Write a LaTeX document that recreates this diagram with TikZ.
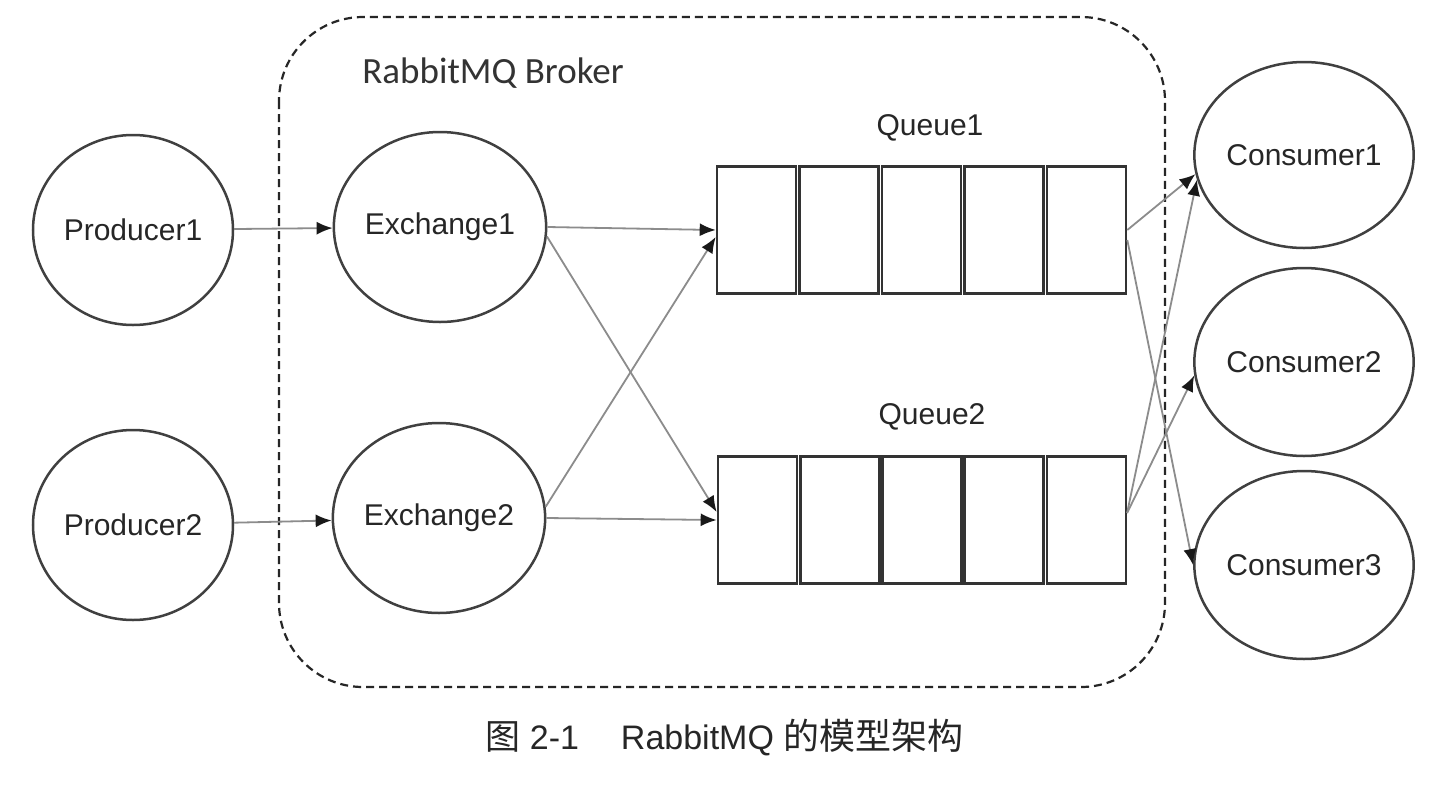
\documentclass[tikz,border=0pt]{standalone}
\usepackage{fontspec}
\setmainfont{Liberation Sans}
\newfontfamily\cjk{Noto Sans CJK SC}
\newfontfamily\brokerfont{Carlito}
\usetikzlibrary{shapes.geometric,arrows.meta}
\begin{document}
\begin{tikzpicture}[x=0.5pt,y=-0.5pt,
  ell/.style={ellipse,draw=black!75,line width=1.25pt,minimum width=100pt,minimum height=95pt,inner sep=0pt,font=\fontsize{15}{18}\selectfont,text=black!85},
  cell/.style={rectangle,draw=black!80,line width=1.3pt,minimum width=39.5pt,minimum height=63.5pt,inner sep=0pt},
  link/.style={draw=black!45,line width=0.9pt,-{Latex[length=8pt,width=6.5pt,color=black!90]}},
  qlabel/.style={font=\fontsize{15}{18}\selectfont,text=black!85},
  brokerbox/.style={draw=black!85,line width=1.1pt,dash pattern=on 4pt off 2.5pt,rounded corners=42pt}]
\useasboundingbox (0,0) rectangle (1448,794);
\fill[white] (0,0) rectangle (1448,794);

% broker boundary
\draw[brokerbox] (279,17) rectangle (1165,687);
\node[anchor=west,inner sep=0pt,font=\brokerfont\fontsize{18.5}{22}\selectfont,text=black!80] (broker) at (362,73) {RabbitMQ Broker};

% producers / exchanges / consumers
\node[ell] (P1) at (133,230) {Producer1};
\node[ell] (P2) at (133,525) {Producer2};
\node[ell] (E1) at (440,227) {Exchange1};
\node[ell] (E2) at (439,518) {Exchange2};
\node[ell,minimum width=97.5pt,minimum height=93pt] (C1) at (1304,155) {Consumer1};
\node[ell,minimum width=97.5pt,minimum height=94pt] (C2) at (1304,362) {Consumer2};
\node[ell,minimum width=97.5pt,minimum height=94pt] (C3) at (1304,565) {Consumer3};

% queues
\foreach \i in {0,...,4} {
  \node[cell] (q1\i) at (756.5+82.5*\i,230) {};
  \node[cell] (q2\i) at (757.5+82.2*\i,520) {};
}
\node[qlabel] (ql1) at (930,128) {Queue1};
\node[qlabel] (ql2) at (932,417) {Queue2};

% connectors
\draw[link] (P1) -- (E1);
\draw[link] (P2) -- (E2);
\draw[link] (E1.east) -- (q10.west);
\draw[link] (E1.-5) -- ([yshift=4pt]q20.west);
\draw[link] (E2.6) -- ([yshift=-3.5pt]q10.west);
\draw[link] (E2.east) -- (q20.west);
\draw[link] (q14.east) -- (C1.190);
\draw[link] ([yshift=-5pt]q14.east) -- (C3.180);
\draw[link] ([yshift=3.5pt]q24.east) -- (C1.193);
\draw[link] ([yshift=3.5pt]q24.east) -- (C2.187);

% caption
\node[anchor=west,inner sep=0pt,font=\fontsize{17}{20}\selectfont,text=black!85] (cap) at (485,738)
  {{\cjk\fontsize{17.5}{20}\selectfont 图} 2-1\hspace{21pt}RabbitMQ {\cjk\fontsize{18}{20}\selectfont 的模型架构}};
\end{tikzpicture}
\end{document}
